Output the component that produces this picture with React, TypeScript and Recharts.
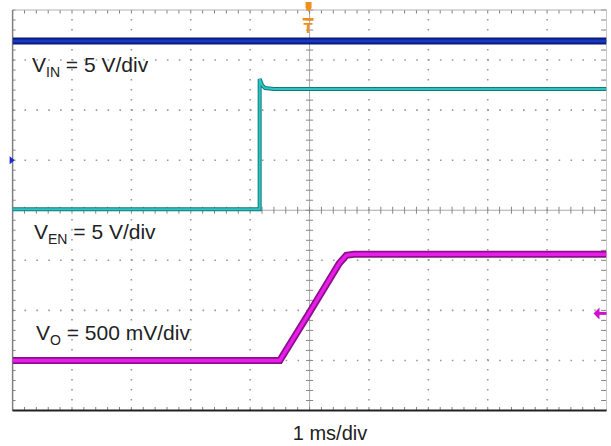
import React from 'react';
import { ComposedChart, Line, XAxis, YAxis, ReferenceLine, ReferenceDot } from 'recharts';

// time axis: ms relative to trigger, 1 ms/div, 10 divs
const timeDomain = [-5, 5];
// vertical grid in divisions
const divDomain = [-4, 4];

// channel settings (volts)
const vinDomain = [-25, 15];   // 5 V/div, ground 1 div above centre
const venDomain = [-20, 20];   // 5 V/div, ground at centre
const voDomain = [-0.5, 3.5];  // 500 mV/div, ground 3 divs below centre

// VIN trace
const vinTime = [-5, 5];
const vinVolts = [11.9, 11.9];

// VEN trace
const venTime = [-5, -0.84, -0.84, -0.8, -0.75, -0.6, 5];
const venVolts = [0.1, 0.1, 13.1, 12.5, 12.2, 12.1, 12.1];

// VO trace
const voTime = [-5, -0.5, 0, 0.5, 0.62, 0.75, 5];
const voVolts = [0, 0, 0.48, 0.97, 1.05, 1.06, 1.06];

const majorX = [-4, -3, -2, -1, 1, 2, 3, 4];
const majorY = [-3, -2, -1, 1, 2, 3];

const toRows = (t: number[], v: number[]) => t.map((x, i) => ({ t: x, v: v[i] }));
const vinData = toRows(vinTime, vinVolts);
const venData = toRows(venTime, venVolts);
const voData = toRows(voTime, voVolts);

const range = (a: number, b: number, step: number) => {
  const out: number[] = [];
  const n = Math.round((b - a) / step);
  for (let i = 0; i <= n; i++) out.push(+(a + i * step).toFixed(4));
  return out;
};
const minorX = range(-5, 5, 0.2);
const minorY = range(-4, 4, 0.2);

const GRID = '#9a9a9a';
const BORDER = '#808080';

export default function App() {
  const W = 611;
  const H = 446;
  const seg = (key: string, x1: number, y1: number, x2: number, y2: number, color = GRID, w = 1) => (
    <ReferenceLine
      key={key}
      yAxisId="grid"
      segment={[{ x: x1, y: y1 }, { x: x2, y: y2 }]}
      stroke={color}
      strokeWidth={w}
      ifOverflow="visible"
    />
  );
  const ticks: React.ReactNode[] = [];
  minorX.forEach((x, i) => {
    ticks.push(seg('ct' + i, x, -0.07, x, 0.07, '#888'));
    ticks.push(seg('tt' + i, x, 4, x, 3.93, BORDER));
    ticks.push(seg('bt' + i, x, -4, x, -3.93, BORDER));
  });
  minorY.forEach((y, i) => {
    ticks.push(seg('cv' + i, -0.06, y, 0.06, y, '#888'));
    ticks.push(seg('lt' + i, -5, y, -4.95, y, BORDER));
    ticks.push(seg('rt' + i, 5, y, 4.91, y, BORDER));
  });

  return (
    <div style={{ position: 'relative', width: W, height: H, background: '#fff' }}>
      <style>{'body{margin:0}'}</style>
      <ComposedChart width={W} height={H} margin={{ top: 10, right: 4.5, bottom: 35.5, left: 12.6 }}>
        <XAxis type="number" dataKey="t" domain={timeDomain} hide allowDataOverflow />
        <YAxis yAxisId="grid" type="number" domain={divDomain} hide allowDataOverflow />
        <YAxis yAxisId="vin" type="number" domain={vinDomain} hide allowDataOverflow />
        <YAxis yAxisId="ven" type="number" domain={venDomain} hide allowDataOverflow />
        <YAxis yAxisId="vo" type="number" domain={voDomain} hide allowDataOverflow />

        {majorX.map((x) => (
          <ReferenceLine key={'vx' + x} yAxisId="grid" x={x} stroke={GRID} strokeWidth={1.6} strokeDasharray="1.6 8.4" />
        ))}
        {majorY.map((y) => (
          <ReferenceLine key={'hy' + y} yAxisId="grid" y={y} stroke={GRID} strokeWidth={1.6} strokeDasharray="1.6 10.27" />
        ))}
        <ReferenceLine yAxisId="grid" x={0} stroke="#aaa" strokeWidth={1} />
        <ReferenceLine yAxisId="grid" y={0} stroke="#aaa" strokeWidth={1} />
        {ticks}
        <ReferenceLine yAxisId="grid" y={4} stroke="#b0b0b0" strokeWidth={1} ifOverflow="visible" />
        <ReferenceLine yAxisId="grid" x={-5} stroke={BORDER} strokeWidth={1.5} ifOverflow="visible" />
        <ReferenceLine yAxisId="grid" x={5} stroke="#c8c8c8" strokeWidth={1} ifOverflow="visible" />
        <ReferenceLine yAxisId="grid" y={-4} stroke="#222" strokeWidth={2} ifOverflow="visible" />

        <Line yAxisId="vin" data={vinData} dataKey="v" type="linear" stroke="#0b1a78" strokeWidth={7} dot={false} isAnimationActive={false} />
        <Line yAxisId="vin" data={vinData} dataKey="v" type="linear" stroke="#1638c4" strokeWidth={3} dot={false} isAnimationActive={false} />

        <Line yAxisId="ven" data={venData} dataKey="v" type="linear" stroke="#137a78" strokeWidth={4} dot={false} isAnimationActive={false} />
        <Line yAxisId="ven" data={venData} dataKey="v" type="linear" stroke="#2cc4c4" strokeWidth={2} dot={false} isAnimationActive={false} />

        <Line yAxisId="vo" data={voData} dataKey="v" type="linear" stroke="#8c108c" strokeWidth={7} dot={false} isAnimationActive={false} />
        <Line yAxisId="vo" data={voData} dataKey="v" type="linear" stroke="#e81ee8" strokeWidth={3.5} dot={false} isAnimationActive={false} />

        <ReferenceDot
          yAxisId="vin"
          x={-5}
          y={0}
          ifOverflow="visible"
          shape={(p: any) => <path d={`M${p.cx - 3},${p.cy - 4} L${p.cx + 2},${p.cy} L${p.cx - 3},${p.cy + 4} Z`} fill="#1a2ad0" />}
        />
        <ReferenceDot
          yAxisId="vo"
          x={5}
          y={0.47}
          ifOverflow="visible"
          shape={(p: any) => (
            <g>
              <path d={`M${p.cx - 13},${p.cy} L${p.cx - 7},${p.cy - 6} L${p.cx - 7},${p.cy + 6} Z`} fill="#d010d0" />
              <line x1={p.cx - 8} y1={p.cy} x2={p.cx} y2={p.cy} stroke="#d010d0" strokeWidth={3} />
            </g>
          )}
        />
        <ReferenceDot
          yAxisId="grid"
          x={0}
          y={4}
          ifOverflow="visible"
          shape={(p: any) => (
            <g>
              <path d={`M${p.cx - 4},${p.cy - 8} L${p.cx + 2},${p.cy - 8} L${p.cx + 2},${p.cy - 2} L${p.cx - 1},${p.cy + 2} L${p.cx - 4},${p.cy - 2} Z`} fill="#f0901a" />
              <rect x={p.cx - 7} y={p.cy + 8} width={11} height={2.5} fill="#f0901a" />
              <text x={p.cx - 1.5} y={p.cy + 23} textAnchor="middle" fontFamily="Liberation Sans, Arial, sans-serif" fontWeight="bold" fontSize={15} fill="#f0901a">T</text>
            </g>
          )}
        />
      </ComposedChart>

      <svg width={W} height={H} style={{ position: 'absolute', left: 0, top: 0, pointerEvents: 'none' }}>
        <g fontFamily="Liberation Sans, Arial, sans-serif" fill="#222">
          <text x={32} y={72} fontSize={21}>
            V<tspan fontSize={14} dy={5}>IN</tspan><tspan dy={-5}> = 5 V/div</tspan>
          </text>
          <text x={34} y={239} fontSize={21}>
            V<tspan fontSize={14} dy={5}>EN</tspan><tspan dy={-5}> = 5 V/div</tspan>
          </text>
          <text x={36} y={340} fontSize={21}>
            V<tspan fontSize={14} dy={5}>O</tspan><tspan dy={-5}> = 500 mV/div</tspan>
          </text>
          <text x={330} y={440} fontSize={20} textAnchor="middle">1 ms/div</text>
        </g>
      </svg>
    </div>
  );
}
